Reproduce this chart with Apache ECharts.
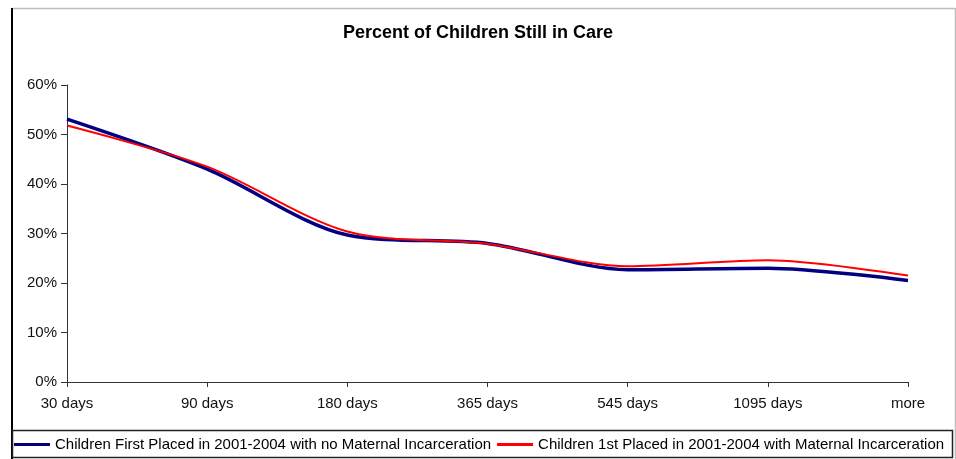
<!DOCTYPE html>
<html>
<head>
<meta charset="utf-8">
<script src="https://cdn.jsdelivr.net/npm/echarts@6/dist/echarts.min.js"></script>
<style>
  html, body { margin: 0; padding: 0; background: #fff; }
  #chart { width: 956px; height: 459px; }
</style>
</head>
<body>
<div id="chart"></div>
<script>
// Time since first placement
const categories = ['30 days', '90 days', '180 days', '365 days', '545 days', '1095 days', 'more'];

// Percent of children still in care at each point
const noIncarceration = [53.1, 43.0, 29.7, 28.0, 22.7, 23.0, 20.5];
const withIncarceration = [51.8, 43.5, 30.4, 27.9, 23.4, 24.6, 21.5];

const seriesNames = [
  'Children First Placed in 2001-2004 with no Maternal Incarceration',
  'Children 1st Placed in 2001-2004 with Maternal Incarceration'
];

const yTicks = [0, 10, 20, 30, 40, 50, 60];

const FONT = '"Liberation Sans", Arial, sans-serif';

const chart = echarts.init(document.getElementById('chart'), null, { renderer: 'canvas' });

chart.setOption({
  backgroundColor: '#ffffff',
  animation: false,
  title: {
    text: 'Percent of Children Still in Care',
    left: 'center',
    top: 24,
    padding: 0,
    textStyle: { fontFamily: FONT, fontSize: 18, fontWeight: 'bold', color: '#000' }
  },
  grid: { left: 67, right: 48, top: 85, bottom: 77, containLabel: false },
  xAxis: {
    type: 'category',
    data: categories,
    boundaryGap: false,
    axisLine: { lineStyle: { color: '#333', width: 1 } },
    axisTick: { show: true, length: 5, alignWithLabel: true, lineStyle: { color: '#333' } },
    axisLabel: { margin: 14, fontFamily: FONT, fontSize: 15, color: '#111' },
    splitLine: { show: false }
  },
  yAxis: {
    type: 'value',
    min: yTicks[0],
    max: yTicks[yTicks.length - 1],
    interval: 10,
    axisLine: { show: true, lineStyle: { color: '#333', width: 1 } },
    axisTick: { show: true, length: 6, lineStyle: { color: '#333' } },
    axisLabel: { margin: 10, fontFamily: FONT, fontSize: 15, color: '#111', formatter: '{value}%' },
    splitLine: { show: false }
  },
  legend: {
    left: 14,
    top: 437,
    width: 940,
    padding: 0,
    itemGap: 6,
    itemWidth: 36,
    itemHeight: 3,
    icon: 'rect',
    textStyle: { fontFamily: FONT, fontSize: 15, color: '#000' },
    data: [
      { name: seriesNames[0], itemStyle: { color: '#000080' } },
      { name: seriesNames[1], itemStyle: { color: '#ff0000' } }
    ]
  },
  series: [
    {
      name: seriesNames[0],
      type: 'line',
      data: noIncarceration,
      smooth: 0.3,
      symbol: 'none',
      lineStyle: { color: '#000080', width: 3.5 },
      itemStyle: { color: '#000080' },
      z: 2
    },
    {
      name: seriesNames[1],
      type: 'line',
      data: withIncarceration,
      smooth: 0.3,
      symbol: 'none',
      lineStyle: { color: '#ff0000', width: 2 },
      itemStyle: { color: '#ff0000' },
      z: 3
    }
  ],
  graphic: [
    // chart area frame
    { type: 'line', shape: { x1: 12, y1: 8.5, x2: 955, y2: 8.5 }, style: { stroke: '#bdbdbd', lineWidth: 1.5 } },
    { type: 'line', shape: { x1: 955.5, y1: 8, x2: 955.5, y2: 459 }, style: { stroke: '#bdbdbd', lineWidth: 1.5 } },
    { type: 'line', shape: { x1: 12, y1: 8, x2: 12, y2: 459 }, style: { stroke: '#000', lineWidth: 2 } },
    // legend box
    { type: 'rect', shape: { x: 12.5, y: 430.5, width: 940, height: 27 }, style: { fill: 'none', stroke: '#222', lineWidth: 1.5 } }
  ]
});
</script>
</body>
</html>
